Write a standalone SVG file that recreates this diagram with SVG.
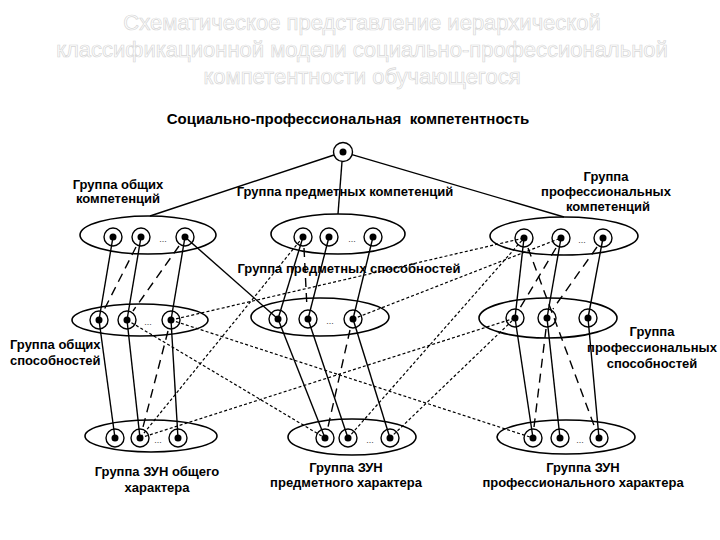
<svg xmlns="http://www.w3.org/2000/svg" width="720" height="540" viewBox="0 0 720 540">
<style>
  .hdr{font-family:"Liberation Sans",Arial,sans-serif;font-size:22px;fill:#ffffff;stroke:#d6d6d6;stroke-width:0.7;text-anchor:middle}
  .lbl{font-family:"Liberation Sans",Arial,sans-serif;font-size:13px;font-weight:bold;fill:#000}
  .ttl{font-family:"Liberation Sans",Arial,sans-serif;font-size:15px;font-weight:bold;fill:#000;text-anchor:middle;white-space:pre}
  .c{text-anchor:middle}
  .ell{fill:none;stroke:#000;stroke-width:1.6}
  .nd{fill:#fff;stroke:#000;stroke-width:1.4}
  .dot{fill:#000}
  .more{font-family:"Liberation Sans",Arial,sans-serif;font-size:9px;fill:#444;text-anchor:middle}
  .s{stroke:#000;stroke-width:1.4;fill:none}
  .ld{stroke:#000;stroke-width:1.4;fill:none;stroke-dasharray:9 6}
  .dt{stroke:#000;stroke-width:1.2;fill:none;stroke-dasharray:3 2.2}
</style>

<g id="header">
  <text class="hdr" x="362" y="30">Схематическое представление иерархической</text>
  <text class="hdr" x="362" y="57">классификационной модели социально-профессиональной</text>
  <text class="hdr" x="362" y="84">компетентности обучающегося</text>
</g>

<g id="root">
  <text class="ttl" x="348" y="124" xml:space="preserve">Социально-профессиональная  компетентность</text>
  <circle class="nd" cx="343" cy="152" r="9.5"/>
  <circle class="dot" cx="343" cy="152" r="3.5"/>
</g>

<g id="general-competences">
  <ellipse class="ell" cx="148" cy="235" rx="68" ry="19"/>
  <circle class="nd" cx="113" cy="237" r="9"/><circle class="dot" cx="113" cy="237" r="3.5"/>
  <circle class="nd" cx="141" cy="237" r="9"/><circle class="dot" cx="141" cy="237" r="3.5"/>
  <text class="more" x="163" y="242">...</text>
  <circle class="nd" cx="185" cy="237" r="9"/><circle class="dot" cx="185" cy="237" r="3.5"/>
  <text class="lbl c" x="118" y="189">Группа общих</text>
  <text class="lbl c" x="118" y="203">компетенций</text>
</g>

<g id="subject-competences">
  <ellipse class="ell" cx="338" cy="234" rx="67" ry="20"/>
  <circle class="nd" cx="303" cy="237" r="9"/><circle class="dot" cx="303" cy="237" r="3.5"/>
  <circle class="nd" cx="329" cy="237" r="9"/><circle class="dot" cx="329" cy="237" r="3.5"/>
  <text class="more" x="352" y="242">...</text>
  <circle class="nd" cx="373" cy="237" r="9"/><circle class="dot" cx="373" cy="237" r="3.5"/>
  <text class="lbl c" x="345" y="196">Группа предметных компетенций</text>
</g>

<g id="professional-competences">
  <ellipse class="ell" cx="564" cy="236" rx="74" ry="19"/>
  <circle class="nd" cx="524" cy="238" r="9"/><circle class="dot" cx="524" cy="238" r="3.5"/>
  <circle class="nd" cx="561" cy="238" r="9"/><circle class="dot" cx="561" cy="238" r="3.5"/>
  <text class="more" x="582" y="243">...</text>
  <circle class="nd" cx="603" cy="238" r="9"/><circle class="dot" cx="603" cy="238" r="3.5"/>
  <text class="lbl c" x="606" y="181">Группа</text>
  <text class="lbl c" x="606" y="196">профессиональных</text>
  <text class="lbl c" x="608" y="211">компетенций</text>
</g>

<g id="general-abilities">
  <ellipse class="ell" cx="140" cy="320" rx="68" ry="16"/>
  <circle class="nd" cx="99" cy="320" r="9"/><circle class="dot" cx="99" cy="320" r="3.5"/>
  <circle class="nd" cx="127" cy="320" r="9"/><circle class="dot" cx="127" cy="320" r="3.5"/>
  <text class="more" x="148" y="325">...</text>
  <circle class="nd" cx="171" cy="320" r="9"/><circle class="dot" cx="171" cy="320" r="3.5"/>
  <text class="lbl" x="10" y="349">Группа общих</text>
  <text class="lbl" x="10" y="365">способностей</text>
</g>

<g id="subject-abilities">
  <ellipse class="ell" cx="320" cy="317" rx="69" ry="19"/>
  <circle class="nd" cx="278" cy="319" r="9"/><circle class="dot" cx="278" cy="319" r="3.5"/>
  <circle class="nd" cx="308" cy="319" r="9"/><circle class="dot" cx="308" cy="319" r="3.5"/>
  <text class="more" x="330" y="324">...</text>
  <circle class="nd" cx="353" cy="319" r="9"/><circle class="dot" cx="353" cy="319" r="3.5"/>
  <text class="lbl c" x="349" y="273">Группа предметных способностей</text>
</g>

<g id="professional-abilities">
  <ellipse class="ell" cx="548" cy="318" rx="69" ry="20"/>
  <circle class="nd" cx="515" cy="318" r="9"/><circle class="dot" cx="515" cy="318" r="3.5"/>
  <circle class="nd" cx="547" cy="318" r="9"/><circle class="dot" cx="547" cy="318" r="3.5"/>
  <circle class="nd" cx="588" cy="318" r="9"/><circle class="dot" cx="588" cy="318" r="3.5"/>
  <text class="lbl c" x="652" y="336">Группа</text>
  <text class="lbl c" x="652" y="352">профессиональных</text>
  <text class="lbl c" x="652" y="368">способностей</text>
</g>

<g id="general-zun">
  <ellipse class="ell" cx="151" cy="436" rx="66" ry="16"/>
  <circle class="nd" cx="115" cy="438" r="9"/><circle class="dot" cx="115" cy="438" r="3.5"/>
  <circle class="nd" cx="140" cy="438" r="9"/><circle class="dot" cx="140" cy="438" r="3.5"/>
  <text class="more" x="158" y="443">...</text>
  <circle class="nd" cx="178" cy="438" r="9"/><circle class="dot" cx="178" cy="438" r="3.5"/>
  <text class="lbl c" x="157" y="476">Группа ЗУН общего</text>
  <text class="lbl c" x="157" y="492">характера</text>
</g>

<g id="subject-zun">
  <ellipse class="ell" cx="352" cy="437" rx="64" ry="18"/>
  <circle class="nd" cx="325" cy="438" r="9"/><circle class="dot" cx="325" cy="438" r="3.5"/>
  <circle class="nd" cx="348" cy="438" r="9"/><circle class="dot" cx="348" cy="438" r="3.5"/>
  <text class="more" x="370" y="443">...</text>
  <circle class="nd" cx="390" cy="438" r="9"/><circle class="dot" cx="390" cy="438" r="3.5"/>
  <text class="lbl c" x="346" y="472">Группа ЗУН</text>
  <text class="lbl c" x="346" y="487">предметного характера</text>
</g>

<g id="professional-zun">
  <ellipse class="ell" cx="566" cy="437" rx="69" ry="17"/>
  <circle class="nd" cx="533" cy="438" r="9"/><circle class="dot" cx="533" cy="438" r="3.5"/>
  <circle class="nd" cx="560" cy="438" r="9"/><circle class="dot" cx="560" cy="438" r="3.5"/>
  <text class="more" x="580" y="443">...</text>
  <circle class="nd" cx="599" cy="438" r="9"/><circle class="dot" cx="599" cy="438" r="3.5"/>
  <text class="lbl c" x="583" y="472">Группа ЗУН</text>
  <text class="lbl c" x="583" y="487">профессионального характера</text>
</g>

<g id="connectors">
  <!-- root to competence groups -->
  <line class="s" x1="334" y1="155" x2="150" y2="216"/>
  <line class="s" x1="342" y1="161.5" x2="338" y2="214"/>
  <line class="s" x1="352" y1="154.7" x2="564" y2="217"/>
  <!-- solid -->
  <line class="s" x1="113" y1="237" x2="99" y2="320"/>
  <line class="s" x1="99" y1="320" x2="115" y2="438"/>
  <line class="s" x1="141" y1="237" x2="127" y2="320"/>
  <line class="s" x1="127" y1="320" x2="140" y2="438"/>
  <line class="s" x1="185" y1="237" x2="171" y2="320"/>
  <line class="s" x1="171" y1="320" x2="178" y2="438"/>
  <line class="s" x1="185" y1="237" x2="278" y2="319"/>
  <line class="s" x1="303" y1="237" x2="278" y2="319"/>
  <line class="s" x1="329" y1="237" x2="308" y2="319"/>
  <line class="s" x1="373" y1="237" x2="353" y2="319"/>
  <line class="s" x1="278" y1="319" x2="325" y2="438"/>
  <line class="s" x1="308" y1="319" x2="348" y2="438"/>
  <line class="s" x1="353" y1="319" x2="390" y2="438"/>
  <line class="s" x1="524" y1="238" x2="515" y2="318"/>
  <line class="s" x1="561" y1="238" x2="547" y2="318"/>
  <line class="s" x1="603" y1="238" x2="588" y2="318"/>
  <line class="s" x1="515" y1="318" x2="533" y2="438"/>
  <line class="s" x1="547" y1="318" x2="560" y2="438"/>
  <line class="s" x1="588" y1="318" x2="599" y2="438"/>
  <!-- long dashed -->
  <line class="ld" x1="136" y1="247" x2="104" y2="310"/>
  <line class="ld" x1="179" y1="246" x2="133" y2="311"/>
  <line class="ld" x1="168" y1="331" x2="143" y2="427"/>
  <line class="ld" x1="304" y1="248" x2="307" y2="308"/>
  <line class="ld" x1="350" y1="330" x2="328" y2="427"/>
  <line class="ld" x1="556" y1="248" x2="520" y2="308"/>
  <line class="ld" x1="597" y1="247" x2="553" y2="309"/>
  <line class="ld" x1="546" y1="329" x2="534" y2="427"/>
  <line class="ld" x1="528" y1="248" x2="595" y2="428"/>
  <!-- dotted -->
  <line class="dt" x1="171" y1="320" x2="524" y2="238"/>
  <line class="dt" x1="353" y1="319" x2="561" y2="238"/>
  <line class="dt" x1="303" y1="237" x2="140" y2="438"/>
  <line class="dt" x1="127" y1="320" x2="325" y2="438"/>
  <line class="dt" x1="171" y1="320" x2="533" y2="438"/>
  <line class="dt" x1="140" y1="438" x2="515" y2="318"/>
  <line class="dt" x1="348" y1="438" x2="524" y2="238"/>
  <line class="dt" x1="390" y1="438" x2="515" y2="318"/>
</g>
</svg>
